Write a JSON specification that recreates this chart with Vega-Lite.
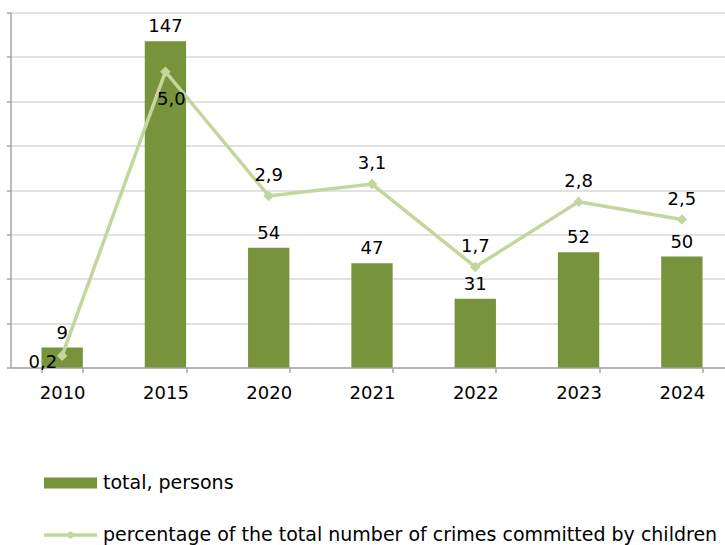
{
  "$schema": "https://vega.github.io/schema/vega-lite/v6.json",
  "width": 723,
  "height": 355,
  "autosize": {"type": "none"},
  "padding": {"left": 10.5, "top": 12.5, "right": 0, "bottom": 177.5},
  "background": "white",
  "data": {
    "values": [
      {"year": "2010", "total": 9, "pct": 0.2},
      {"year": "2015", "total": 147, "pct": 5.0},
      {"year": "2020", "total": 54, "pct": 2.9},
      {"year": "2021", "total": 47, "pct": 3.1},
      {"year": "2022", "total": 31, "pct": 1.7},
      {"year": "2023", "total": 52, "pct": 2.8},
      {"year": "2024", "total": 50, "pct": 2.5}
    ]
  },
  "encoding": {
    "x": {
      "field": "year",
      "type": "nominal",
      "sort": null,
      "scale": {"paddingInner": 0.6, "paddingOuter": 0.3},
      "axis": {
        "title": null,
        "labelAngle": 0,
        "labelFont": "DejaVu Sans",
        "labelFontSize": 18,
        "labelColor": "#000000",
        "labelPadding": 12,
        "domainColor": "#a6a6a6",
        "domainWidth": 1.5,
        "tickColor": "#a6a6a6",
        "tickWidth": 1.5,
        "tickSize": 5,
        "tickBand": "extent",
        "grid": false
      }
    }
  },
  "layer": [
    {
      "layer": [
        {
          "mark": {"type": "bar", "color": "#77933C"},
          "encoding": {
            "y": {
              "field": "total",
              "type": "quantitative",
              "scale": {"domain": [0, 160], "nice": false},
              "axis": {
                "title": null,
                "values": [0, 20, 40, 60, 80, 100, 120, 140, 160],
                "labels": false,
                "grid": true,
                "gridColor": "#d9d9d9",
                "gridWidth": 1.5,
                "domainColor": "#a6a6a6",
                "domainWidth": 1.5,
                "tickColor": "#a6a6a6",
                "tickWidth": 1.5,
                "tickSize": 4
              }
            },
            "fill": {
              "datum": "total, persons",
              "scale": {"range": ["#77933C"]},
              "legend": {
                "title": null,
                "orient": "none",
                "legendX": 33.5,
                "legendY": 444,
                "symbolType": "M-1,-0.21H1V0.21H-1Z",
                "symbolSize": 2809,
                "symbolStrokeWidth": 0,
                "labelFont": "DejaVu Sans",
                "labelFontSize": 19,
                "labelColor": "#000000",
                "labelLimit": 1000,
                "labelOffset": 6
              }
            }
          }
        },
        {
          "mark": {"type": "text", "font": "DejaVu Sans", "fontSize": 18, "color": "#000000", "baseline": "alphabetic", "dy": -9},
          "encoding": {
            "y": {"field": "total", "type": "quantitative"},
            "text": {"field": "total", "type": "quantitative"}
          }
        }
      ]
    },
    {
      "layer": [
        {
          "mark": {"type": "line", "color": "#C3D69B", "strokeWidth": 3.5, "point": {"shape": "diamond", "size": 60, "filled": true, "color": "#C3D69B"}},
          "encoding": {
            "y": {"field": "pct", "type": "quantitative", "scale": {"domain": [0, 6], "nice": false}, "axis": null},
            "stroke": {
              "datum": "percentage of the total number of crimes committed by children",
              "scale": {"range": ["#C3D69B"]},
              "legend": {
                "title": null,
                "orient": "none",
                "legendX": 33.5,
                "legendY": 496,
                "symbolType": "M-1,-0.066H-0.12L0,-0.14L0.12,-0.066H1V0.066H0.12L0,0.14L-0.12,0.066H-1Z",
                "symbolSize": 2809,
                "symbolFillColor": "#C3D69B",
                "symbolStrokeWidth": 0,
                "labelFont": "DejaVu Sans",
                "labelFontSize": 19,
                "labelColor": "#000000",
                "labelLimit": 1000,
                "labelOffset": 6
              }
            }
          }
        },
        {
          "transform": [{"filter": "datum.year != '2010' && datum.year != '2015'"}],
          "mark": {"type": "text", "font": "DejaVu Sans", "fontSize": 18, "color": "#000000", "baseline": "alphabetic", "dy": -15},
          "encoding": {
            "y": {"field": "pct", "type": "quantitative"},
            "text": {"field": "pct", "type": "quantitative", "format": ".1f"}
          }
        },
        {
          "transform": [{"filter": "datum.year == '2015'"}],
          "mark": {"type": "text", "font": "DejaVu Sans", "fontSize": 18, "color": "#000000", "baseline": "alphabetic", "dy": 33, "dx": 6},
          "encoding": {
            "y": {"field": "pct", "type": "quantitative"},
            "text": {"field": "pct", "type": "quantitative", "format": ".1f"}
          }
        },
        {
          "transform": [{"filter": "datum.year == '2010'"}],
          "mark": {"type": "text", "font": "DejaVu Sans", "fontSize": 18, "color": "#000000", "baseline": "alphabetic", "align": "right", "dy": 12, "dx": -5},
          "encoding": {
            "y": {"field": "pct", "type": "quantitative"},
            "text": {"field": "pct", "type": "quantitative", "format": ".1f"}
          }
        }
      ]
    }
  ],
  "resolve": {"scale": {"y": "independent"}},
  "config": {
    "view": {"stroke": null},
    "locale": {"number": {"decimal": ",", "thousands": " ", "grouping": [3], "currency": ["", ""]}}
  }
}
